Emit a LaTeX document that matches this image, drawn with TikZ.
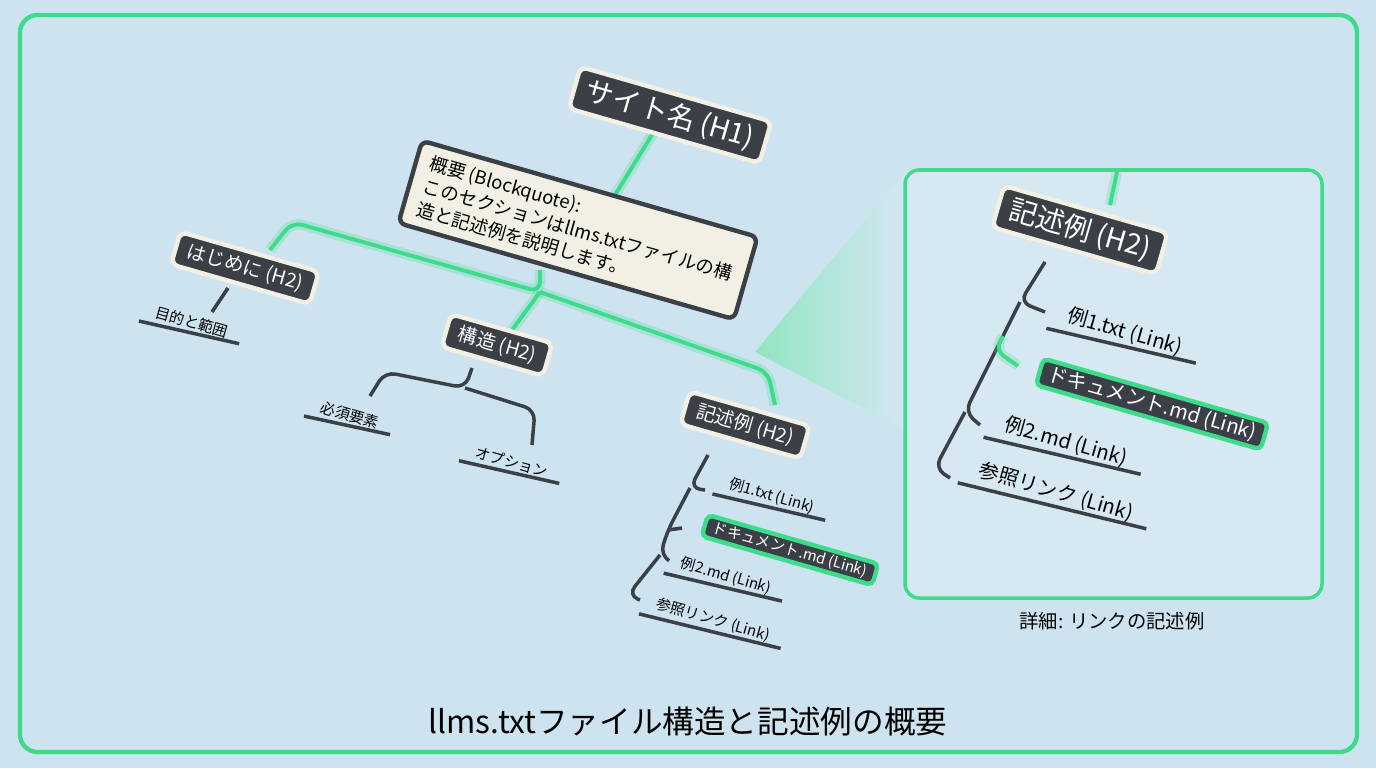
\documentclass[tikz,border=0pt]{standalone}
\usepackage{fontspec}
\setmainfont{Noto Sans CJK JP}
\usetikzlibrary{positioning}
\definecolor{bgblue}{HTML}{CDE4F0}
\definecolor{panelblue}{HTML}{D6E9F3}
\definecolor{gline}{HTML}{3DDC8A}
\definecolor{dark}{HTML}{3A4045}
\definecolor{cream}{HTML}{F2F0E4}
\tikzset{%
    head/.style={rounded corners=4pt,fill=dark,draw=cream,line width=2.5pt,
        text=white,rotate=-16,inner xsep=7pt,inner ysep=4pt},
    hot/.style={rounded corners=3pt,fill=dark,draw=gline,line width=2.5pt,
        text=white,rotate=-16,inner xsep=5pt,inner ysep=2pt},
    item/.style={rotate=-16,text=black,inner sep=2pt},
    tree/.style={dark,line width=2pt,rounded corners=6pt},
    link/.style={gline,line width=2.2pt,rounded corners=6pt},
    glow/.style={gline,opacity=0.25,line width=6pt,rounded corners=6pt},
    uline/.style={dark,line width=2pt},
}
\begin{document}
\begin{tikzpicture}[x=0.02cm,y=-0.02cm]
 \useasboundingbox (0,0) rectangle (1376,768);
 \fill[bgblue] (0,0) rectangle (1376,768);
 \draw[gline,line width=2.5pt,rounded corners=10pt] (20,15) rectangle (1357,752);
 % wedge to the detail panel
 \shade[left color=gline!70,right color=panelblue,opacity=0.7]
  (755,352) -- (905,172) -- (905,430) -- cycle;
 % green connectors
 \foreach \p in {{(655,130) -- (615,195)},{(540,270) -- (540,292) -- (292,222) -- (270,250)},
  {(540,292) -- (512,330)},{(540,292) -- (768,372) -- (775,405)}}
  {\draw[glow] \p; \draw[link] \p;}
 % overview tree
 \node[head,font=\fontsize{16}{18}\selectfont] (site) at (670,115) {サイト名 (H1)};
 \node[rotate=-16,fill=cream,draw=dark,line width=2.5pt,rounded corners=4pt,
  align=left,font=\fontsize{10.5}{13.5}\selectfont,inner xsep=8pt,inner ysep=6pt] (quote) at (578,230)
  {概要 (Blockquote):\\このセクションはllms.txtファイルの構\\造と記述例を説明します。};
 \node[head,font=\fontsize{11}{13}\selectfont] (intro) at (245,268) {はじめに (H2)};
 \node[head,font=\fontsize{11}{13}\selectfont] (struct) at (497,345) {構造 (H2)};
 \node[head,font=\fontsize{11}{13}\selectfont] (ex) at (745,425) {記述例 (H2)};
 \node[item,font=\fontsize{8.5}{10}\selectfont] (scope) at (192,322) {目的と範囲};
 \node[item,font=\fontsize{8.5}{10}\selectfont] (must) at (350,415) {必須要素};
 \node[item,font=\fontsize{8.5}{10}\selectfont] (opt) at (512,462) {オプション};
 \node[item,font=\fontsize{8.5}{10}\selectfont] (exa) at (772,496) {例1.txt (Link)};
 \node[hot,font=\fontsize{8.5}{10}\selectfont] (doc) at (790,550) {ドキュメント.md (Link)};
 \node[item,font=\fontsize{8.5}{10}\selectfont] (exb) at (726,576) {例2.md (Link)};
 \node[item,font=\fontsize{8.5}{10}\selectfont] (refs) at (713,620) {参照リンク (Link)};
 \foreach \n in {scope,must,opt,exa,exb,refs}
  \draw[uline] ([xshift=-6pt]\n.south west) -- ([xshift=6pt]\n.south east);
 \draw[tree] (228,288) -- (212,312);
 \draw[tree] (472,368) -- (465,388) -- (385,372) -- (370,396);
 \draw[tree] (465,388) -- (535,410) -- (532,445);
 \draw[tree] (708,455) -- (690,488) -- (705,490);
 \draw[tree] (690,488) -- (668,530) -- (660,555) -- (668,560);
 \draw[tree] (668,530) -- (682,528);
 \draw[tree] (660,555) -- (628,595) -- (640,600);
 % detail panel
 \draw[gline,fill=panelblue,line width=2pt,rounded corners=8pt] (905,170) rectangle (1322,598);
 \draw[glow] (1117,172) -- (1110,205); \draw[link] (1117,172) -- (1110,205);
 \node[head,font=\fontsize{16}{18}\selectfont] (exbig) at (1080,230) {記述例 (H2)};
 \node[item,font=\fontsize{11.5}{13}\selectfont] (bexa) at (1125,332) {例1.txt (Link)};
 \node[hot,font=\fontsize{11.5}{13}\selectfont] (bdoc) at (1152,404) {ドキュメント.md (Link)};
 \node[item,font=\fontsize{11.5}{13}\selectfont] (bexb) at (1066,442) {例2.md (Link)};
 \node[item,font=\fontsize{11.5}{13}\selectfont] (brefs) at (1056,492) {参照リンク (Link)};
 \foreach \n in {bexa,bexb,brefs}
  \draw[uline] ([xshift=-8pt]\n.south west) -- ([xshift=8pt]\n.south east);
 \draw[tree] (1045,262) -- (1020,302) -- (1045,312);
 \draw[tree] (1020,302) -- (965,412) -- (980,425);
 \draw[tree] (965,412) -- (935,468) -- (950,478);
 \draw[glow] (1003,336) -- (995,350) -- (1018,366);
 \draw[link] (1003,336) -- (995,350) -- (1018,366);
 \node[font=\fontsize{11}{13}\selectfont] (cap) at (1112,621) {詳細: リンクの記述例};
 \node[font=\fontsize{18}{20}\selectfont] (title) at (688,722) {llms.txtファイル構造と記述例の概要};
\end{tikzpicture}
\end{document}
